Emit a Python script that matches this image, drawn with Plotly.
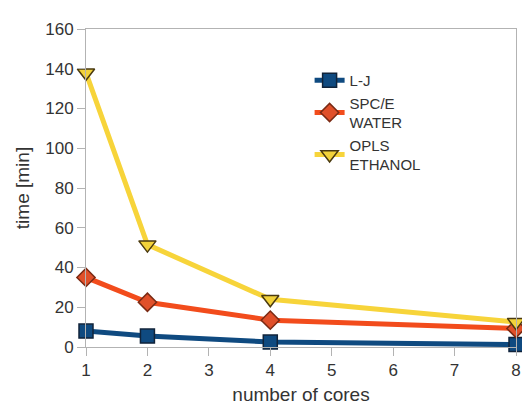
import plotly.graph_objects as go

cores = [1, 2, 4, 8]
lj = [8, 5.5, 2.5, 1.2]
spce = [35, 22.5, 13.5, 9.3]
opls = [138, 51.5, 24, 12.5]
names = ["L-J", "SPC/E<br>WATER", "OPLS<br>ETHANOL"]

fig = go.Figure()
fig.add_trace(go.Scatter(x=cores, y=lj, name=names[0], mode="lines+markers",
                         line=dict(color="#0f4a80", width=5),
                         marker=dict(symbol="square", size=14, color="#0f4a80",
                                     line=dict(color="#10233a", width=1.5))))
fig.add_trace(go.Scatter(x=cores, y=spce, name=names[1], mode="lines+markers",
                         line=dict(color="#f24c1c", width=5),
                         marker=dict(symbol="diamond", size=14, color="#e0502a",
                                     line=dict(color="#7a2a14", width=1.5))))
fig.add_trace(go.Scatter(x=cores, y=opls, name=names[2], mode="lines+markers",
                         line=dict(color="#f7d43a", width=5),
                         marker=dict(symbol="triangle-down", size=15, color="#f2d23a",
                                     line=dict(color="#4a3a10", width=1.5))))

fig.update_traces(cliponaxis=False)
fig.update_layout(
    width=530, height=411,
    margin=dict(l=78, r=22, t=14, b=72),
    paper_bgcolor="white", plot_bgcolor="white",
    font=dict(family="Liberation Sans, Arial, sans-serif", size=17, color="#333333"),
    showlegend=True,
    legend=dict(x=0.52, y=0.89, xanchor="left", yanchor="top",
                bgcolor="rgba(0,0,0,0)", font=dict(size=15, color="#333333"),
                itemwidth=30, tracegroupgap=3),
    xaxis=dict(range=[1, 8], tickvals=[1, 2, 3, 4, 5, 6, 7, 8], showgrid=False,
               zeroline=False, showline=True, linecolor="#b3b3b3", mirror=True,
               ticks="outside", ticklen=8, tickcolor="#b3b3b3",
               title=dict(text="number of cores", font=dict(size=19), standoff=8)),
    yaxis=dict(range=[0, 160], tickvals=[0, 20, 40, 60, 80, 100, 120, 140, 160],
               showgrid=False, zeroline=False, showline=True, linecolor="#b3b3b3",
               mirror=True, ticks="outside", ticklen=8, tickcolor="#b3b3b3",
               title=dict(text="time [min]", font=dict(size=19), standoff=10)),
)
fig.write_html("out.html")
